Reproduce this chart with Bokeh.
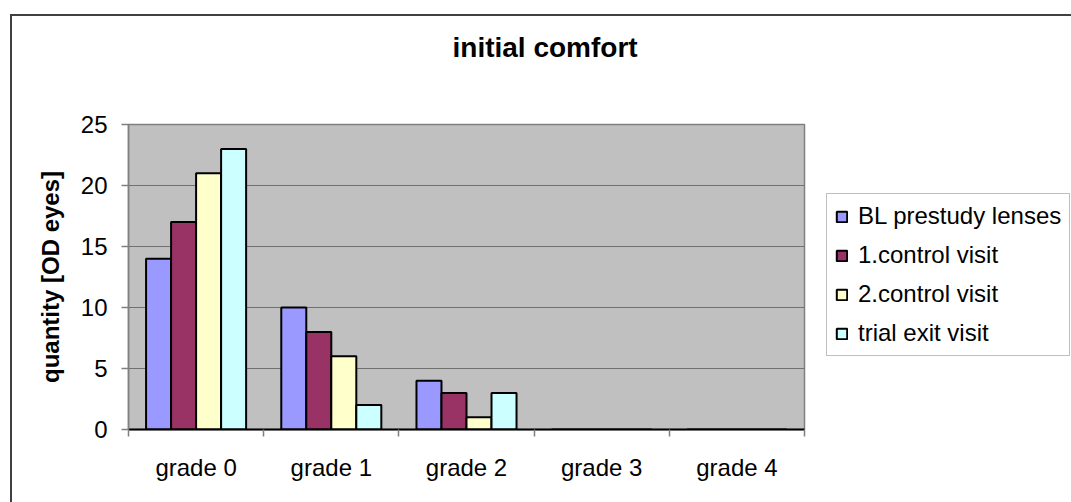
from bokeh.plotting import figure
from bokeh.models import Range1d, FixedTicker, ColumnDataSource, Legend, LegendItem, Title
from bokeh.layouts import row
from bokeh.embed import file_html
from bokeh.resources import INLINE

# ---- data ----
categories = ["grade 0", "grade 1", "grade 2", "grade 3", "grade 4"]
series_names = ["BL prestudy lenses", "1.control visit", "2.control visit", "trial exit visit"]
bl_prestudy = [14, 10, 4, 0, 0]
control_1 = [17, 8, 3, 0, 0]
control_2 = [21, 6, 1, 0, 0]
trial_exit = [23, 2, 3, 0, 0]
y_ticks = [0, 5, 10, 15, 20, 25]
title_text = "initial comfort"
y_label = "quantity [OD eyes]"

series_values = [bl_prestudy, control_1, control_2, trial_exit]
colors = ["#9999FF", "#993366", "#FFFFCC", "#CCFFFF"]

FONT = "Liberation Sans"
H = 502
W_MAIN = 826
W_LEG = 245

p = figure(width=W_MAIN, height=H,
           x_range=Range1d(0, len(categories)), y_range=Range1d(0, 25),
           output_backend="svg", toolbar_location=None,
           min_border_left=128, min_border_right=22,
           min_border_top=124, min_border_bottom=H - 124 - 305,
           background_fill_color="#C0C0C0",
           border_fill_color="white", border_fill_alpha=0,
           outline_line_color="#808080", outline_line_width=1.5)

bar_w = 0.185
n = len(series_values)
sources = []
for k, (name, vals, col) in enumerate(zip(series_names, series_values, colors)):
    xs = [i + 0.5 + (k - (n - 1) / 2) * bar_w for i in range(len(categories))]
    src = ColumnDataSource(dict(x=xs, top=vals))
    sources.append(src)
    p.vbar(x="x", top="top", bottom=0, width=bar_w, source=src,
           fill_color=col, line_color="black", line_width=2)

# grid
p.xgrid.visible = False
p.ygrid.ticker = FixedTicker(ticks=y_ticks)
p.ygrid.grid_line_color = "#707070"
p.ygrid.grid_line_width = 1.2

# x axis: labels at category centres, ticks at category boundaries
centers = [i + 0.5 for i in range(len(categories))]
p.xaxis.ticker = FixedTicker(ticks=centers, minor_ticks=list(range(len(categories) + 1)))
p.xaxis.major_label_overrides = {c: cat for c, cat in zip(centers, categories)}
p.xaxis.major_tick_out = 0
p.xaxis.major_tick_in = 0
p.xaxis.minor_tick_out = 7
p.xaxis.minor_tick_in = 0
p.xaxis.minor_tick_line_color = "#808080"
p.xaxis.minor_tick_line_width = 1.5
p.xaxis.axis_line_color = "black"
p.xaxis.axis_line_width = 2
p.xaxis.major_label_standoff = 17
p.xaxis.major_label_text_font = FONT
p.xaxis.major_label_text_font_size = "24px"
p.xaxis.major_label_text_color = "black"

# y axis
p.yaxis.ticker = FixedTicker(ticks=y_ticks)
p.yaxis.major_tick_out = 7
p.yaxis.major_tick_in = 0
p.yaxis.minor_tick_out = 0
p.yaxis.minor_tick_in = 0
p.yaxis.major_tick_line_color = "#808080"
p.yaxis.major_tick_line_width = 1.5
p.yaxis.axis_line_color = "#808080"
p.yaxis.axis_line_width = 1.5
p.yaxis.major_label_standoff = 14
p.yaxis.major_label_text_font = FONT
p.yaxis.major_label_text_font_size = "24px"
p.yaxis.major_label_text_color = "black"
p.yaxis.axis_label = y_label
p.yaxis.axis_label_text_font = FONT
p.yaxis.axis_label_text_font_size = "24px"
p.yaxis.axis_label_text_font_style = "bold"
p.yaxis.axis_label_text_color = "black"
p.yaxis.axis_label_standoff = 14

# title: a blank spacer panel between the plot area and the title lifts it up
p.title.text = ""
p.add_layout(Title(text=" ", text_font=FONT, text_font_size="10px", standoff=44), "above")
p.add_layout(Title(text=title_text, align="left", offset=324, standoff=10,
                   text_font=FONT, text_font_size="28px", text_font_style="bold",
                   text_color="black"), "above")

# legend panel (separate canvas to the right of the plot area);
# its hidden renderers share the series sources and only supply the legend swatches
p2 = figure(width=W_LEG, height=H, x_range=Range1d(0, 1), y_range=Range1d(0, 25),
            output_backend="svg", toolbar_location=None,
            x_axis_location=None, y_axis_location=None, min_border=0,
            background_fill_alpha=0, border_fill_alpha=0, outline_line_color=None)
p2.grid.visible = False
items = []
for name, col, src in zip(series_names, colors, sources):
    r = p2.vbar(x="x", top="top", bottom=0, width=bar_w, source=src,
                fill_color=col, line_color="black", line_width=2, visible=False)
    items.append(LegendItem(label=name, renderers=[r]))

lg = Legend(items=items, location=(0, 73),
            label_text_font=FONT, label_text_font_size="24px", label_text_color="black",
            glyph_width=13, glyph_height=13, label_standoff=10,
            padding=8, spacing=11, margin=0,
            border_line_color="#808080", border_line_width=1.5,
            background_fill_color="white", background_fill_alpha=1.0,
            inactive_fill_alpha=0.0)
p2.add_layout(lg)

layout = row(p, p2)
# outer chart border (left and top edges visible in the window)
layout.styles = {
    "background-color": "white",
    "background-image": "linear-gradient(#404040,#404040), linear-gradient(#404040,#404040)",
    "background-size": "2px 100%, 100% 2px",
    "background-position": "10px 14px, 10px 14px",
    "background-repeat": "no-repeat",
}

open("out.html", "w").write(file_html(layout, INLINE))
